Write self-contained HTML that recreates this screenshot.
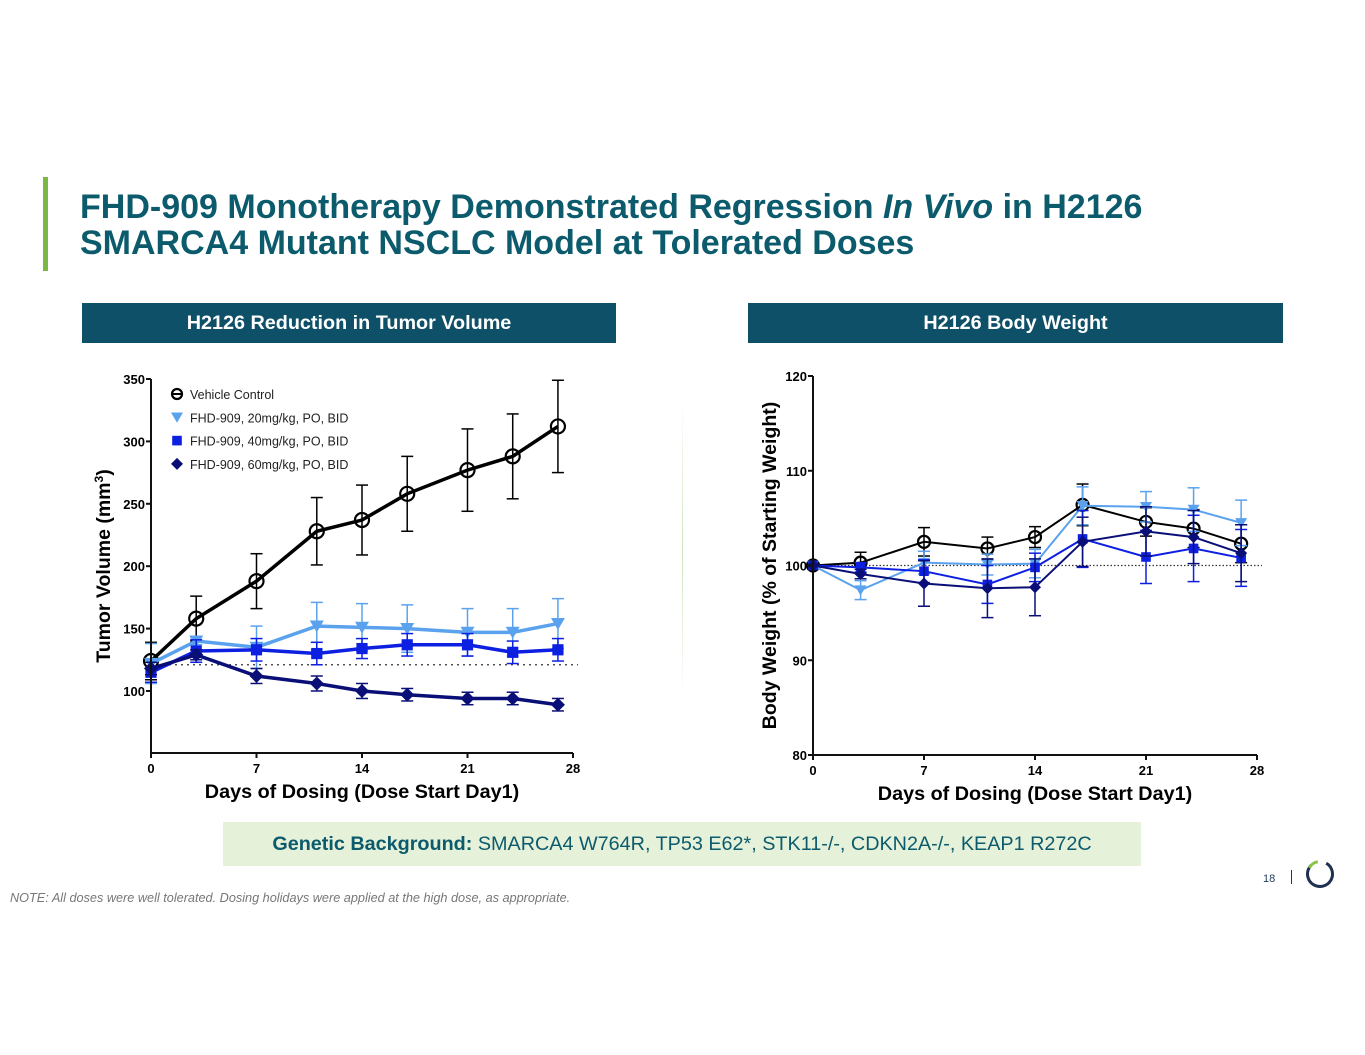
<!DOCTYPE html>
<html><head><meta charset="utf-8"><style>
body{margin:0;width:1365px;height:1055px;background:#fff;font-family:"Liberation Sans",sans-serif;position:relative;overflow:hidden}
.abs{position:absolute}
.title{left:80px;top:189px;color:#0c5b6d;font-weight:bold;font-size:34px;line-height:36px;white-space:nowrap}
.hdr{background:#0d5068;color:#fff;font-weight:bold;font-size:19.8px;text-align:center;line-height:40px;height:40px}
</style></head><body>
<div class="abs" style="left:43px;top:177px;width:5px;height:94px;background:#7ab743"></div>
<div class="abs title">FHD-909 Monotherapy Demonstrated Regression <i>In Vivo</i> in H2126<br>SMARCA4 Mutant NSCLC Model at Tolerated Doses</div>
<div class="abs hdr" style="left:82px;top:303px;width:534px">H2126 Reduction in Tumor Volume</div>
<div class="abs hdr" style="left:748px;top:303px;width:535px">H2126 Body Weight</div>
<div class="abs" style="left:682px;top:400px;width:1px;height:300px;background:linear-gradient(#fff,#cfe3bf,#fff)"></div>
<svg class="abs" id="chart" style="left:0;top:0" width="1365" height="1055"></svg>
<div class="abs" style="left:223px;top:822px;width:918px;height:44px;background:#e5f1d8;color:#0c5b6d;font-size:19.8px;line-height:44px;text-align:center;white-space:nowrap"><b>Genetic Background:</b> SMARCA4 W764R, TP53 E62*, STK11-/-, CDKN2A-/-, KEAP1 R272C</div>
<div class="abs" style="left:10px;top:891px;font-size:12.7px;font-style:italic;color:#777;white-space:nowrap">NOTE: All doses were well tolerated. Dosing holidays were applied at the high dose, as appropriate.</div>
<div class="abs" style="left:1263px;top:873px;font-size:11px;color:#1f3a5a">18</div>
<div class="abs" style="left:1291px;top:870px;width:1px;height:14px;background:#333"></div>
<svg class="abs" style="left:1304px;top:858px" width="32" height="32"><circle cx="16" cy="16" r="12.5" fill="none" stroke="#1f3050" stroke-width="3" stroke-dasharray="62 100" transform="rotate(-60 16 16)"/><path d="M5.3 9.8 A12.5 12.5 0 0 1 13.8 3.7" fill="none" stroke="#8cc34a" stroke-width="3"/></svg>
<script>
const days=[0,3,7,11,14,17,21,24,27];
const tvVeh=[124,158,188,228,237,258,277,288,312];
const tvVehErr=[15,18,22,27,28,30,33,34,37];
const tv20=[122,140,135,152,151,150,147,147,154];
const tv20Err=[16,3,17,19,19,19,19,19,20];
const tv40=[115,132,133,130,134,137,137,131,133];
const tv40Err=[8,9,9,9,8,9,9,9,9];
const tv60=[118,129,112,106,100,97,94,94,89];
const tv60Err=[5,4,6,6,6,5,5,5,5];
const bwVeh=[100,100.3,102.5,101.8,103,106.4,104.6,103.9,102.3];
const bwVehErr=[0,1.1,1.5,1.2,1.1,2.2,1.5,2,2];
const bw20=[100,97.4,100.3,100.1,100.2,106.3,106.2,105.9,104.5];
const bw20Err=[0,1,1.2,1.1,1.5,2,1.6,2.3,2.4];
const bw40=[100,99.8,99.4,98.0,99.8,102.8,100.9,101.8,100.8];
const bw40Err=[0,0.5,1.2,2,1.5,3,2.8,3.5,3];
const bw60=[100,99.1,98.1,97.6,97.7,102.5,103.6,103.0,101.3];
const bw60Err=[0,0.5,2.4,3.1,3,2.6,2.6,2.8,3];
const tvTicks=[100,150,200,250,300,350];
const bwTicks=[80,90,100,110,120];
const xTicks=[0,7,14,21,28];
const legendLabels=["Vehicle Control","FHD-909, 20mg/kg, PO, BID","FHD-909, 40mg/kg, PO, BID","FHD-909, 60mg/kg, PO, BID"];
const svg=document.getElementById('chart');const NS='http://www.w3.org/2000/svg';
function el(t,a,p){const e=document.createElementNS(NS,t);for(const k in a)e.setAttribute(k,a[k]);(p||svg).appendChild(e);return e;}
function marker(kind,x,y,c,s,g){
 let m;
 if(kind=='circle')m=el('circle',{cx:x,cy:y,r:s,fill:'none',stroke:c,'stroke-width':2.2},g);
 else if(kind=='tri')m=el('path',{d:`M${x-s},${y-s*0.8}L${x+s},${y-s*0.8}L${x},${y+s*0.9}Z`,fill:c},g);
 else if(kind=='sq')m=el('rect',{x:x-s*0.8,y:y-s*0.8,width:s*1.6,height:s*1.6,fill:c},g);
 else m=el('path',{d:`M${x},${y-s}L${x+s},${y}L${x},${y+s}L${x-s},${y}Z`,fill:c},g);
 
 
}
function chart(o){
 const X=d=>o.x0+(d-0)/28*(o.x1-o.x0);
 const Y=v=>o.yB+(v-o.vMin)/(o.vMax-o.vMin)*(o.yT-o.yB);
 const g=el('g',{});
 
 
 el('line',{x1:X(0),x2:o.x1+5,y1:Y(o.ref),y2:Y(o.ref),stroke:'#333','stroke-width':1.3,'stroke-dasharray':o.refDash},g);
 o.series.forEach(s=>{
  s.v.forEach((v,i)=>{const x=X(days[i]);const e=s.e[i];if(!e)return;
   el('line',{x1:x,x2:x,y1:Y(v-e),y2:Y(v+e),stroke:s.c,'stroke-width':1.5},g);
   el('line',{x1:x-6,x2:x+6,y1:Y(v+e),y2:Y(v+e),stroke:s.c,'stroke-width':1.5},g);
   el('line',{x1:x-6,x2:x+6,y1:Y(v-e),y2:Y(v-e),stroke:s.c,'stroke-width':1.5},g);});
  const p=el('polyline',{points:s.v.map((v,i)=>X(days[i])+','+Y(v)).join(' '),fill:'none',stroke:s.c,'stroke-width':o.lw},g);
  
  
  s.v.forEach((v,i)=>marker(s.k,X(days[i]),Y(v),s.c,o.ms,g));
 });
 el('line',{x1:X(0),x2:X(0),y1:o.yT,y2:o.yB,stroke:'#111','stroke-width':2},g);
 el('line',{x1:X(0),x2:X(28),y1:o.yB,y2:o.yB,stroke:'#111','stroke-width':2},g);
 o.ticks.forEach(t=>{el('line',{x1:X(0)-5,x2:X(0),y1:Y(t),y2:Y(t),stroke:'#111','stroke-width':2},g);
  const tx=el('text',{x:X(0)-6,y:Y(t)+5,'text-anchor':'end','font-size':13,'font-weight':'bold'},g);tx.textContent=t;});
 xTicks.forEach(t=>{el('line',{x1:X(t),x2:X(t),y1:o.yB,y2:o.yB+5,stroke:'#111','stroke-width':2},g);
  const tx=el('text',{x:X(t),y:o.yB+20,'text-anchor':'middle','font-size':13,'font-weight':'bold'},g);tx.textContent=t;});
 const xl=el('text',{x:(X(0)+X(28))/2,y:o.yB+45,'text-anchor':'middle','font-size':19.8,'font-weight':'bold'},g);xl.textContent='Days of Dosing (Dose Start Day1)';
 
 const yl=el('text',{transform:`translate(${o.ylx},${(o.yT+o.yB)/2}) rotate(-90)`,'text-anchor':'middle','font-size':19.5,'font-weight':'bold'},g);
 yl.innerHTML=o.ylabel;
 
 return {X,Y,g};
}
const cols=['#000','#5aa2ee','#0d1fe0','#0a0f78'];
const kinds=['circle','tri','sq','dia'];
const L=chart({name:'tumor-volume-chart',x0:151,x1:573,yT:379,yB:753,vMin:50.3,vMax:350,ref:121,refDash:'2 4',lw:3.5,ms:7,ticks:tvTicks,ylx:110,
 ylabel:'Tumor Volume (mm<tspan dy="-7" font-size="12">3</tspan><tspan dy="7">)</tspan>',
 series:[{n:'vehicle',v:tvVeh,e:tvVehErr,c:cols[0],k:'circle'},{n:'fhd-20',v:tv20,e:tv20Err,c:cols[1],k:'tri'},{n:'fhd-40',v:tv40,e:tv40Err,c:cols[2],k:'sq'},{n:'fhd-60',v:tv60,e:tv60Err,c:cols[3],k:'dia'}]});
legendLabels.forEach((lab,i)=>{const y=394+i*23.3;
 marker(kinds[i],177,y,cols[i],i==0?5:6,L.g);
 if(i==0)el('line',{x1:172,x2:182,y1:y,y2:y,stroke:'#000','stroke-width':2},L.g);
 const t=el('text',{x:190,y:y+5,'font-size':12.5,fill:'#222'},L.g);t.textContent=lab;
 
 });
chart({name:'body-weight-chart',x0:813,x1:1257,yT:376,yB:755,vMin:80,vMax:120,ref:100,refDash:'1.5 2',lw:2,ms:6,ticks:bwTicks,ylx:776,
 ylabel:'Body Weight (% of Starting Weight)',
 series:[{n:'vehicle',v:bwVeh,e:bwVehErr,c:cols[0],k:'circle'},{n:'fhd-20',v:bw20,e:bw20Err,c:cols[1],k:'tri'},{n:'fhd-40',v:bw40,e:bw40Err,c:cols[2],k:'sq'},{n:'fhd-60',v:bw60,e:bw60Err,c:cols[3],k:'dia'}]});
</script>
</body></html>
